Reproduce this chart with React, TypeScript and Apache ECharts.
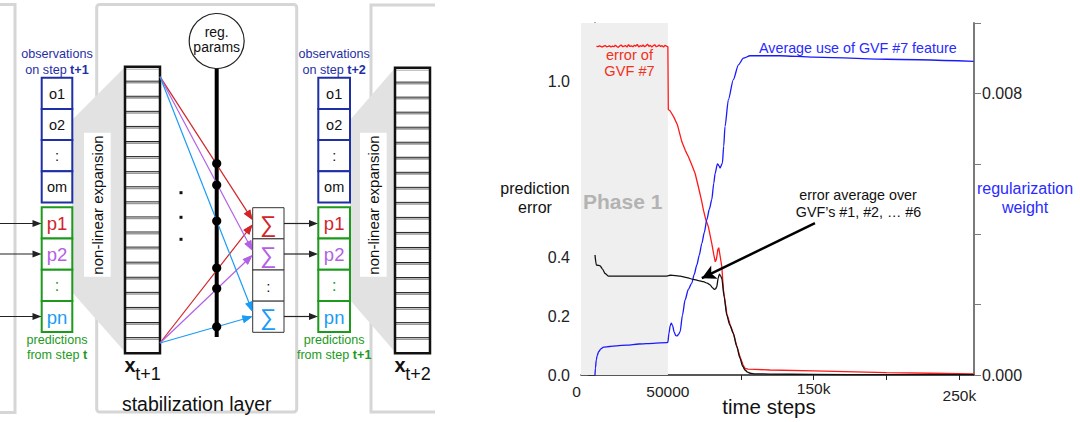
import React, { useEffect, useRef } from "react";
import * as echarts from "echarts";

// ---------------- data ----------------
const gvf7Steps = [1000, 2000, 3000, 4000, 5000, 6000, 7000, 8000, 9000, 10000, 11000, 12000, 13000, 14000, 15000, 16000, 17000, 18000, 19000, 20000,
  21000, 22000, 23000, 24000, 25000, 26000, 27000, 28000, 29000, 30000, 31000, 32000, 33000, 34000, 35000, 36000, 37000, 38000, 39000, 40000,
  41000, 42000, 43000, 44000, 45000, 46000, 47000, 48000, 49000, 50000,
  50300, 51600, 54000, 56600, 59600, 62000, 64100, 66500, 68700, 71000, 73300, 74400, 76000, 77800, 80100, 81500, 82500, 83300, 84300, 84900, 85700, 87000, 88100, 90400, 92500, 94900, 97200, 99500, 101500, 102900, 105000, 110000, 120000, 150000, 200000, 230000, 259800];
const gvf7Error = [1.121, 1.119, 1.122, 1.12, 1.118, 1.121, 1.123, 1.119, 1.12, 1.122,
  1.118, 1.121, 1.119, 1.124, 1.12, 1.117, 1.122, 1.125, 1.119, 1.121,
  1.123, 1.118, 1.126, 1.12, 1.122, 1.119, 1.124, 1.121, 1.127, 1.118,
  1.123, 1.12, 1.125, 1.119, 1.122, 1.128, 1.12, 1.124, 1.118, 1.123,
  1.126, 1.119, 1.121, 1.125, 1.12, 1.123, 1.118, 1.124, 1.121, 1.119,
  0.905, 0.9, 0.88, 0.852, 0.795, 0.765, 0.744, 0.715, 0.687, 0.64, 0.59, 0.562, 0.53, 0.505, 0.449, 0.41, 0.386, 0.395, 0.428, 0.434, 0.41, 0.369, 0.29, 0.21, 0.175, 0.142, 0.1, 0.062, 0.035, 0.023, 0.02, 0.019, 0.017, 0.014, 0.008, 0.006, 0.004];

const avgSteps = [0, 900, 3600, 5000, 7000, 9300, 20000, 35000, 49300, 51600, 55000, 58400, 63000, 67500, 71000, 74400, 77000, 79000, 80500, 81700, 82700, 83500, 84500, 85300, 86200, 87000, 88600, 90400, 92500, 94900, 97200, 99500, 101300, 102900, 104600, 106400, 110000, 120000, 150000, 200000, 259800];
const avgError = [0.409, 0.375, 0.372, 0.362, 0.346, 0.337, 0.337, 0.337, 0.337, 0.34, 0.339, 0.337, 0.332, 0.326, 0.322, 0.318, 0.313, 0.307, 0.298, 0.292, 0.294, 0.3, 0.33, 0.344, 0.338, 0.329, 0.267, 0.204, 0.17, 0.142, 0.098, 0.057, 0.03, 0.017, 0.01, 0.006, 0.004, 0.003, 0.002, 0.001, 0.001];

const useSteps = [0, 300, 900, 1500, 2500, 4000, 5900, 10000, 15000, 21900, 30000, 40000, 49300, 50000, 50700, 51600, 52300, 53200, 54300, 55400, 56200, 57300, 58400, 60000, 61800, 64000, 66400, 68000, 69900, 71500, 73300, 75000, 76700, 78500, 80100, 81500, 82400, 84000, 85000, 85800, 87400, 88300, 89200, 91500, 94900, 98400, 101800, 106400, 127000, 150000, 200000, 259800];
const useWeight = [0, 0.0002, 0.00043, 0.00055, 0.00066, 0.00074, 0.00079, 0.00081, 0.00083, 0.00085, 0.00088, 0.0009, 0.00092, 0.00093, 0.00118, 0.0014, 0.00147, 0.00141, 0.00122, 0.00112, 0.00111, 0.00115, 0.00123, 0.0017, 0.00213, 0.00243, 0.00261, 0.00285, 0.00313, 0.0034, 0.00374, 0.00405, 0.00441, 0.00472, 0.00498, 0.00545, 0.00573, 0.006, 0.00595, 0.00588, 0.00602, 0.0065, 0.00706, 0.00782, 0.00839, 0.00881, 0.009, 0.00907, 0.00907, 0.00903, 0.00897, 0.00891];

const xMin = -9600;
const xMax = 260000;
const phase1End = 50000;
const xTickValues = [100000, 150000, 200000, 250000];
const xLabelValues = [xMin, 50000, 150000, 250000];
const xLabelTexts = ["0", "50000", "150k", "250k"];
const leftTickLabels = ["0.0", "0.2", "0.4", "1.0"];
const rightTickLabels = ["0.000", "0.008"];
const arrowFrom = [150900, 0.518];
const arrowTo = [73300, 0.33];

const obsLabels = ["o1", "o2", ":", "om"];
const predLabels = ["p1", "p2", ":", "pn"];
const sumLabels = ["∑", "∑", ":", "∑"];

// ---------------- styling ----------------
const F = "'Liberation Sans', Arial, Helvetica, sans-serif";
const C_RED = "#d0262a";
const C_VIO = "#b460e4";
const C_BLU = "#1a9cf5";
const C_GRN = "#1c9a1c";
const C_OBS = "#1f2fa5";
const FRAME = "#d6d6d6";

function txt(x: number, y: number, text: string, size: number, fill: string, extra: any = {}, elExtra: any = {}) {
  return {
    type: "text",
    x,
    y,
    z: 100,
    ...elExtra,
    style: { text, fontSize: size, fill, fontFamily: F, align: "center", verticalAlign: "middle", ...extra },
  };
}

function arrow(x1: number, y1: number, x2: number, y2: number, color: string, lw = 1.2, hl = 9, hw = 3.6) {
  const dx = x2 - x1, dy = y2 - y1, L = Math.hypot(dx, dy);
  const ux = dx / L, uy = dy / L;
  const bx = x2 - ux * hl, by = y2 - uy * hl;
  const px = -uy, py = ux;
  return [
    { type: "line", shape: { x1, y1, x2: bx + ux * 1, y2: by + uy * 1 }, style: { stroke: color, lineWidth: lw } },
    { type: "polygon", shape: { points: [[x2, y2], [bx + px * hw, by + py * hw], [bx - px * hw, by - py * hw]] }, style: { fill: color } },
  ];
}

function vectorEls(x0: number, y0: number, x1: number, y1: number, n = 19) {
  const els: any[] = [];
  els.push({ type: "rect", shape: { x: x0, y: y0, width: x1 - x0, height: y1 - y0 }, style: { fill: "#fff" } });
  const h = (y1 - y0) / n;
  for (let i = 1; i < n; i++) {
    const y = y0 + i * h;
    els.push({ type: "line", shape: { x1: x0, y1: y - 0.6, x2: x1, y2: y - 0.6 }, style: { stroke: "#222", lineWidth: 1 } });
    els.push({ type: "line", shape: { x1: x0, y1: y + 1, x2: x1, y2: y + 1 }, style: { stroke: "#9a9a9a", lineWidth: 1.6 } });
  }
  els.push({ type: "line", shape: { x1: x0, y1: y0 + 2.5, x2: x1, y2: y0 + 2.5 }, style: { stroke: "#aaa", lineWidth: 1 } });
  els.push({ type: "rect", shape: { x: x0, y: y0, width: x1 - x0, height: y1 - y0 }, style: { fill: "none", stroke: "#111", lineWidth: 2.5 } });
  return els;
}

function column(x: number, w: number, obsTop: number, predTop: number, cellH: number, stepText: string, predStep: string) {
  const els: any[] = [];
  const cx = x + w / 2;
  obsLabels.forEach((l, i) => {
    els.push({ type: "rect", shape: { x, y: obsTop + i * cellH, width: w, height: cellH }, style: { fill: "#fff", stroke: C_OBS, lineWidth: 2 } });
    els.push(txt(cx, obsTop + i * cellH + cellH / 2 + 0.5, l, 14.5, "#111"));
  });
  const predColors = [C_RED, C_VIO, C_GRN, C_BLU];
  predLabels.forEach((l, i) => {
    els.push({ type: "rect", shape: { x, y: predTop + i * cellH, width: w, height: cellH }, style: { fill: "#fff", stroke: C_GRN, lineWidth: 2 } });
    els.push(txt(cx, predTop + i * cellH + cellH / 2 + 0.5, l, l === ":" ? 16 : 18.5, predColors[i]));
  });
  els.push(txt(cx, 53.5, "observations", 12.6, C_OBS));
  els.push(txt(cx, 69.5, "on step {b|" + stepText + "}", 12.6, C_OBS, { rich: { b: { fontSize: 12.6, fontWeight: "bold", fill: C_OBS, fontFamily: F } } }));
  els.push(txt(cx, 340, "predictions", 12.6, C_GRN));
  els.push(txt(cx, 354.5, "from step {b|" + predStep + "}", 12.6, C_GRN, { rich: { b: { fontSize: 12.6, fontWeight: "bold", fill: C_GRN, fontFamily: F } } }));
  return els;
}

function buildDiagram() {
  const els: any[] = [];
  // frames
  els.push({ type: "polyline", shape: { points: [[-3, 4.5], [15, 4.5], [15, 412.5], [-3, 412.5]] }, style: { stroke: FRAME, lineWidth: 3, fill: "none" } });
  els.push({ type: "rect", shape: { x: 96.7, y: 4.5, width: 200, height: 407.5, r: 3 }, style: { stroke: FRAME, lineWidth: 3, fill: "none" } });
  els.push({ type: "polyline", shape: { points: [[435, 5], [371, 5], [371, 412], [435, 412]] }, style: { stroke: FRAME, lineWidth: 3, fill: "none" } });

  // gray expansion wedges
  els.push({ type: "polygon", shape: { points: [[72, 120], [125, 67], [125, 352], [72, 292]] }, style: { fill: "#e2e2e2" } });
  els.push({ type: "polygon", shape: { points: [[350, 120], [395, 68], [395, 352], [350, 300]] }, style: { fill: "#e2e2e2" } });
  els.push({ type: "rect", shape: { x: 84, y: 132.7, width: 26.7, height: 144 }, style: { fill: "#fff" } });
  els.push({ type: "rect", shape: { x: 360, y: 132.7, width: 26.7, height: 144 }, style: { fill: "#fff" } });
  els.push(txt(97.5, 205, "non-linear expansion", 15, "#111", {}, { rotation: Math.PI / 2 }));
  els.push(txt(373.5, 205, "non-linear expansion", 15, "#111", {}, { rotation: Math.PI / 2 }));

  // columns of observations / predictions
  els.push(...column(41.7, 30.6, 77.7, 207.3, 31.2, "t+1", "t"));
  els.push(...column(318.3, 31.7, 77.7, 207.3, 31.2, "t+2", "t+1"));

  // input arrows on the left
  [223.5, 254, 316.5].forEach((y) => els.push(...arrow(-2, y, 41.5, y, "#222", 1.2, 9, 3.6)));

  // feature vectors
  els.push(...vectorEls(125, 66.7, 160, 353.3));
  els.push(...vectorEls(395, 67.7, 430, 353.3));
  els.push(txt(130, 365, "x", 20, "#111", { fontWeight: "bold" }));
  els.push(txt(148, 373.5, "t+1", 18, "#111"));
  els.push(txt(400, 365, "x", 20, "#111", { fontWeight: "bold" }));
  els.push(txt(418, 373.5, "t+2", 18, "#111"));

  // vertical dots
  [192.7, 217.3, 239.3].forEach((y) => els.push({ type: "rect", shape: { x: 179.5, y: y - 1.5, width: 3, height: 3 }, style: { fill: "#111" } }));

  // reg params bus
  els.push({ type: "line", shape: { x1: 216.7, y1: 68, x2: 216.7, y2: 337 }, style: { stroke: "#000", lineWidth: 4 } });
  els.push({ type: "circle", shape: { cx: 216.7, cy: 41, r: 27.5 }, style: { fill: "#fff", stroke: "#222", lineWidth: 1.2 } });
  els.push(txt(216.7, 32, "reg.", 14, "#111"));
  els.push(txt(216.7, 47, "params", 14, "#111"));

  // colored weight lines
  const tips = [
    [C_RED, 220, 224.5],
    [C_VIO, 250.7, 255],
    [C_BLU, 311.7, 316.5],
  ] as [string, number, number][];
  tips.forEach(([c, yt, yb]) => {
    els.push(...arrow(160, 76.7, 252.5, yt, c, 1.2, 10, 3.8));
    els.push(...arrow(160, 343, 252.5, yb, c, 1.2, 10, 3.8));
  });

  // dots on bus
  [163.5, 185, 221, 268, 288.5, 326.7].forEach((y) => els.push({ type: "circle", shape: { cx: 216.7, cy: y, r: 4.6 }, style: { fill: "#000" } }));

  // sum boxes
  const sumColors = [C_RED, C_VIO, "#111", C_BLU];
  sumLabels.forEach((l, i) => {
    const y = 207.7 + i * 31.15;
    els.push({ type: "rect", shape: { x: 252.7, y, width: 31.3, height: 31.15 }, style: { fill: "#fff", stroke: "#333", lineWidth: 1 } });
    els.push(txt(268.3, y + 16, l, l === ":" ? 15 : 23, sumColors[i]));
  });
  // redraw tips of arrows over boxes
  tips.forEach(([c, yt, yb]) => {
    els.push(...arrow(160, 76.7, 252.5, yt, c, 1.2, 10, 3.8).slice(1));
    els.push(...arrow(160, 343, 252.5, yb, c, 1.2, 10, 3.8).slice(1));
  });
  [223.5, 254, 316.5].forEach((y) => els.push(...arrow(284, y, 318, y, "#222", 1.2, 9, 3.6)));

  els.push(txt(196.7, 403.5, "stabilization layer", 19.5, "#111"));
  return els;
}

function chartTexts() {
  return [
    txt(535, 188.5, "prediction", 16, "#111"),
    txt(535, 207.5, "error", 16, "#111"),
    txt(1025, 188.5, "regularization", 16, "#2a2aff"),
    txt(1025, 207, "weight", 16, "#2a2aff"),
    txt(583, 201, "Phase 1", 21, "#b3b3b3", { align: "left", fontWeight: "bold" }),
    txt(629.5, 54.5, "error of", 14.6, "#f2311d"),
    txt(629.5, 71, "GVF #7", 14.6, "#f2311d"),
    txt(759, 48.3, "Average use of GVF #7 feature", 14.3, "#2a2aff", { align: "left" }),
    txt(858, 195, "error average over", 14.3, "#111"),
    txt(858.5, 211.5, "GVF’s #1, #2, … #6", 14.3, "#111"),
    txt(769, 406.5, "time steps", 20.5, "#111"),
  ];
}

export default function App() {
  const ref = useRef<HTMLDivElement>(null);
  useEffect(() => {
    if (!ref.current) return;
    const chart = echarts.init(ref.current, null, { renderer: "svg" });
    const pair = (xs: number[], ys: number[]) => xs.map((x, i) => [x, ys[i]]);
    const near = (labels: string[], v: number, eps: number) => {
      const f = labels.find((l) => Math.abs(parseFloat(l) - v) < eps);
      return f === undefined ? "" : f;
    };
    const labelRich: any = {
      z: { fontSize: 15.5, color: "#222", fontFamily: F, padding: [3, 9, 0, 0] },
      a: { fontSize: 15.5, color: "#222", fontFamily: F, padding: [3, 0, 0, 0] },
      b: { fontSize: 15.5, color: "#222", fontFamily: F, padding: [0, 0, 0, 0] },
      c: { fontSize: 15.5, color: "#222", fontFamily: F, padding: [7, 0, 0, 0] },
    };
    const richKeys = ["z", "a", "b", "c"];
    chart.setOption({
      animation: false,
      grid: { left: 581, right: 106, top: 23, bottom: 47 },
      xAxis: {
        type: "value",
        min: xMin,
        max: xMax,
        axisLine: { show: true, lineStyle: { color: "#222", width: 1.5 } },
        axisTick: { show: true, customValues: xTickValues, length: 5, lineStyle: { color: "#222", width: 1 } },
        axisLabel: {
          customValues: xLabelValues,
          margin: 5,
          fontSize: 15.5,
          color: "#222",
          fontFamily: F,
          rich: labelRich,
          formatter: (v: number) => {
            const i = xLabelValues.findIndex((t) => Math.abs(t - v) < 1);
            return i < 0 ? "" : "{" + richKeys[i] + "|" + xLabelTexts[i] + "}";
          },
        },
        splitLine: { show: false },
      },
      yAxis: [
        {
          type: "value",
          min: 0,
          max: 1.2,
          interval: 0.2,
          position: "left",
          axisLine: { show: true, lineStyle: { color: "#333", width: 1.5 } },
          axisTick: { show: true, length: 7, lineStyle: { color: "#333", width: 1 } },
          axisLabel: { margin: 11, fontSize: 16, color: "#222", fontFamily: F, formatter: (v: number) => near(leftTickLabels, v, 1e-6) },
          splitLine: { show: false },
        },
        {
          type: "value",
          min: 0,
          max: 0.01,
          interval: 0.002,
          position: "right",
          axisLine: { show: true, lineStyle: { color: "#7a7a7a", width: 2 } },
          axisTick: { show: true, length: 7, lineStyle: { color: "#7a7a7a", width: 1 } },
          axisLabel: { margin: 8, fontSize: 16, color: "#222", fontFamily: F, formatter: (v: number) => near(rightTickLabels, v, 1e-8) },
          splitLine: { show: false },
        },
      ],
      series: [
        {
          type: "line",
          z: 1,
          data: [[xMin, 0]],
          showSymbol: false,
          symbol: "none",
          lineStyle: { opacity: 0 },
          silent: true,
          markArea: {
            silent: true,
            itemStyle: { color: "#efefef" },
            data: [[{ coord: [xMin, 0] }, { coord: [phase1End, 1.2] }]],
          },
        },
        {
          name: "error of GVF #7",
          type: "line",
          z: 3,
          data: pair(gvf7Steps, gvf7Error),
          showSymbol: false,
          symbol: "none",
          lineStyle: { color: "#ff1a1a", width: 1.3 },
        },
        {
          name: "error average",
          type: "line",
          z: 4,
          data: pair(avgSteps, avgError),
          showSymbol: false,
          symbol: "none",
          smooth: 0.25,
          smoothMonotone: "x",
          lineStyle: { color: "#111", width: 1.3 },
          markLine: {
            silent: true,
            symbol: ["none", "arrow"],
            symbolSize: [11, 14],
            label: { show: false },
            lineStyle: { color: "#000", width: 2.5, type: "solid" },
            data: [[{ coord: arrowFrom }, { coord: arrowTo }]],
          },
        },
        {
          name: "Average use of GVF #7 feature",
          type: "line",
          yAxisIndex: 1,
          z: 3,
          data: pair(useSteps, useWeight),
          showSymbol: false,
          symbol: "none",
          smooth: 0.25,
          smoothMonotone: "x",
          lineStyle: { color: "#1a1aff", width: 1.3 },
        },
      ],
      graphic: { elements: [...buildDiagram(), ...chartTexts()] },
    });
    return () => chart.dispose();
  }, []);
  return <div ref={ref} style={{ position: "absolute", left: 0, top: 0, width: 1080, height: 422 }} />;
}
